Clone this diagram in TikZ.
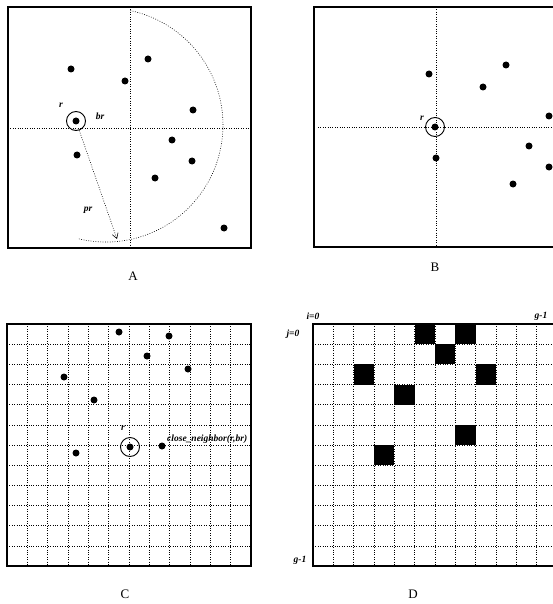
\documentclass[tikz,border=0pt]{standalone}
\usepackage{fontspec}
\setmainfont{Liberation Serif}
\usetikzlibrary{arrows.meta}
\begin{document}
\begin{tikzpicture}[x=1pt,y=-1pt,
  frame/.style={draw,line width=1.1pt},
  dotl/.style={draw,line width=0.6pt,dash pattern=on 0.8pt off 1.6pt},
  pt/.style={circle,fill,inner sep=0pt,minimum size=7pt},
  ring/.style={circle,draw,line width=0.9pt,inner sep=0pt,minimum size=19pt},
  lbl/.style={font=\fontsize{9.5}{9.5}\selectfont\itshape\bfseries,inner sep=0pt},
  captxt/.style={font=\fontsize{13}{13}\selectfont,inner sep=0pt},
  cell/.style={fill=black,draw=none}]
\useasboundingbox (0,0) rectangle (553,604);
% ---------------- Panel A ----------------
\draw[frame] (8,7) rectangle (251,248);
\draw[dotl] (8,128) -- (251,128);
\draw[dotl] (130,7) -- (130,248);
\draw[dotl] (130.3,10.6) arc[start angle=-78,end angle=104,radius=117];
\node[ring] (Ar) at (76,121) {};
\node[pt] (Arc) at (76,121) {};
\node[pt] (A1) at (71,69) {};
\node[pt] (A2) at (125,81) {};
\node[pt] (A3) at (148,59) {};
\node[pt] (A4) at (193,110) {};
\node[pt] (A5) at (172,140) {};
\node[pt] (A6) at (192,161) {};
\node[pt] (A7) at (155,178) {};
\node[pt] (A8) at (77,155) {};
\node[pt] (A9) at (224,228) {};
\coordinate (Apr) at (117,239);
\draw[dotl,-{Straight Barb[length=5pt,width=6pt]}] (Ar) -- (Apr);
\node[lbl] (Alr) at (61,105) {r};
\node[lbl] (Albr) at (100,116) {br};
\node[lbl] (Alpr) at (88,210) {pr};
\node[captxt] (capA) at (133,276) {A};
% ---------------- Panel B ----------------
\draw[frame] (557,7) -- (314,7) -- (314,247) -- (557,247);
\draw[dotl] (318,127) -- (557,127);
\draw[dotl] (436,7) -- (436,247);
\node[ring] (Br) at (435,127) {};
\node[pt] (Brc) at (435,127) {};
\node[pt] (B1) at (429,74) {};
\node[pt] (B2) at (483,87) {};
\node[pt] (B3) at (506,65) {};
\node[pt] (B4) at (549,116) {};
\node[pt] (B5) at (529,146) {};
\node[pt] (B6) at (549,167) {};
\node[pt] (B7) at (513,184) {};
\node[pt] (B8) at (436,158) {};
\node[lbl] (Blr) at (422,118) {r};
\node[captxt] (capB) at (435,267) {B};
% ---------------- Panel C ----------------
\foreach \k in {1,...,11}{
  \draw[dotl] ({7+\k*20.33},324) -- ({7+\k*20.33},566);
  \draw[dotl] (7,{324+\k*20.17}) -- (251,{324+\k*20.17});
}
\draw[frame] (7,324) rectangle (251,566);
\node[ring] (Cr) at (130,447) {};
\node[pt] (Crc) at (130,447) {};
\node[pt] (C1) at (119,332) {};
\node[pt] (C2) at (169,336) {};
\node[pt] (C3) at (147,356) {};
\node[pt] (C4) at (188,369) {};
\node[pt] (C5) at (64,377) {};
\node[pt] (C6) at (94,400) {};
\node[pt] (C7) at (76,453) {};
\node[pt] (C8) at (162,446) {};
\node[lbl] (Clr) at (123,428) {r};
\node[lbl,anchor=west] (Clcn) at (167,439) {close\_neighbor(r,br)};
\node[captxt] (capC) at (125,594) {C};
% ---------------- Panel D ----------------
\foreach \c/\r in {5/0,7/0,6/1,2/2,8/2,4/3,7/5,3/6}{
  \fill[cell] ({313+\c*20.33},{324+\r*20.17}) rectangle ++(20.33,20.17);
}
\foreach \k in {1,...,11}{
  \draw[dotl] ({313+\k*20.33},324) -- ({313+\k*20.33},566);
  \draw[dotl] (313,{324+\k*20.17}) -- (557,{324+\k*20.17});
}
\draw[frame] (557,324) -- (313,324) -- (313,566) -- (557,566);
\node[lbl] (Di) at (313,316) {i=0};
\node[lbl] (Dg1) at (541,316) {g-1};
\node[lbl] (Dj) at (293,334) {j=0};
\node[lbl] (Dg2) at (300,560) {g-1};
\node[captxt] (capD) at (413,594) {D};
\end{tikzpicture}
\end{document}
